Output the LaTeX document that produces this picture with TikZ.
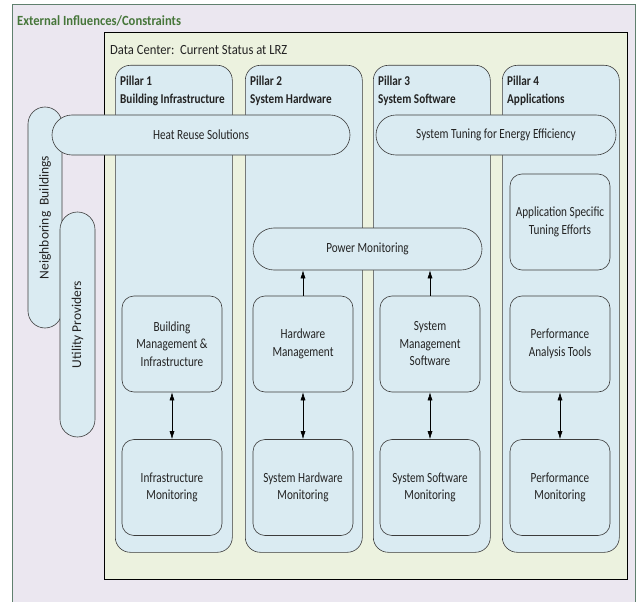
\documentclass[tikz,border=0pt]{standalone}
\usepackage{fontspec}
\setmainfont{Carlito}
\newfontfamily\bodyfont[FakeStretch=0.8]{Carlito}
\newfontfamily\pillfont[FakeStretch=0.83]{Carlito}
\newfontfamily\headfont[FakeStretch=0.9]{Carlito}
\usetikzlibrary{arrows.meta}
\definecolor{extfill}{RGB}{235,231,240}
\definecolor{extline}{RGB}{96,128,110}
\definecolor{dcfill}{RGB}{236,242,223}
\definecolor{pilfill}{RGB}{218,235,242}
\definecolor{boxline}{RGB}{60,60,60}
\definecolor{titlegreen}{RGB}{70,118,58}
\definecolor{txt}{RGB}{35,35,35}

\tikzset{
	frame/.style={draw=#1, line width=0.7pt, anchor=north west, inner sep=0pt},
	pillar/.style={draw=boxline, fill=pilfill, line width=0.6pt, rounded corners=15pt, anchor=north west, minimum width=117pt, minimum height=487pt, inner sep=0pt},
	pillhead/.style={anchor=base west, text=txt, font=\fontsize{13.5}{16}\pillfont\bfseries, inner sep=0pt},
	box/.style={draw=boxline, fill=pilfill, line width=0.6pt, rounded corners=12pt, minimum width=100pt, minimum height=96pt, align=center, text=txt, font=\fontsize{14}{17.5}\bodyfont, inner sep=2pt},
	capsule/.style={draw=boxline, fill=pilfill, line width=0.6pt, rounded corners=#1, align=center, text=txt, font=\fontsize{14}{17.5}\bodyfont, inner sep=0pt},
	sidetext/.style={rotate=90, text=txt, font=\fontsize{13.5}{16}\selectfont},
	link/.style={line width=0.6pt, {Latex[length=8pt,width=5pt]}-{Latex[length=8pt,width=5pt]}},
	uplink/.style={line width=0.6pt, -{Latex[length=8pt,width=5pt]}}
}

\begin{document}
\begin{tikzpicture}[x=1pt,y=-1pt]
		\useasboundingbox (0,0) rectangle (638,602);
		\clip (0,0) rectangle (638,602);
		\fill[white] (0,0) rectangle (638,602);
		% outer frame and data center
		\node[frame=extline, fill=extfill, minimum width=623pt, minimum height=606pt] (ext) at (12,4) {};
		\node[anchor=base west, inner sep=0pt, text=titlegreen, font=\fontsize{14}{16}\headfont\bfseries] (exttitle) at (17,26) {External Influences/Constraints};
		\node[frame=black, fill=dcfill, minimum width=523pt, minimum height=547pt] (dc) at (104,32) {};
		\node[anchor=base west, inner sep=0pt, text=txt, font=\fontsize{14}{16}\headfont] (dctitle) at (110,54.5) {Data Center:\ \ Current Status at LRZ};
		% pillars
		\node[pillar] (p1) at (115,65) {};
		\node[pillar] (p2) at (245,65) {};
		\node[pillar] (p3) at (373,65) {};
		\node[pillar] (p4) at (502,65) {};
		\node[pillhead] (p1t) at (120,85.5) {Pillar 1};
		\node[pillhead] (p1s) at (120,103) {Building Infrastructure};
		\node[pillhead] (p2t) at (250,85.5) {Pillar 2};
		\node[pillhead] (p2s) at (250,103) {System Hardware};
		\node[pillhead] (p3t) at (378,85.5) {Pillar 3};
		\node[pillhead] (p3s) at (378,103) {System Software};
		\node[pillhead] (p4t) at (507,85.5) {Pillar 4};
		\node[pillhead] (p4s) at (507,103) {Applications};
		% external side capsules
		\node[capsule=17pt, minimum width=34pt, minimum height=221pt] (nb) at (45,217.5) {};
		\node[sidetext] (nbt) at (nb.center) {Neighboring\ \ Buildings};
		\node[capsule=17.5pt, minimum width=35pt, minimum height=225pt] (up) at (77.5,324.5) {};
		\node[sidetext] (upt) at (up.center) {Utility Providers};
		% cross-pillar capsules
		\node[capsule=20pt, minimum width=298pt, minimum height=40pt] (heat) at (201,135) {Heat Reuse Solutions};
		\node[capsule=20pt, minimum width=240pt, minimum height=40pt] (tune) at (496,135) {System Tuning for Energy Efficiency};
		\node[capsule=21pt, minimum width=229pt, minimum height=42pt] (pw) at (367.5,249) {Power Monitoring};
		% boxes
		\node[box] (bm) at (172,344) {Building\\Management \&\\Infrastructure};
		\node[box] (im) at (172,487.5) {Infrastructure\\Monitoring};
		\node[box] (hm) at (303,344) {Hardware\\Management};
		\node[box] (shm) at (303,487.5) {System Hardware\\Monitoring};
		\node[box] (sms) at (430,344) {System\\Management\\Software};
		\node[box] (ssm) at (430,487.5) {System Software\\Monitoring};
		\node[box] (ase) at (560,222) {Application Specific\\Tuning Efforts};
		\node[box] (pat) at (560,344) {Performance\\Analysis Tools};
		\node[box] (pm) at (560,487.5) {Performance\\Monitoring};
		% arrows
		\draw[link] (bm) -- (im);
		\draw[link] (hm) -- (shm);
		\draw[link] (sms) -- (ssm);
		\draw[link] (pat) -- (pm);
		\draw[uplink] (hm) -- (hm |- pw.south);
		\draw[uplink] (sms) -- (sms |- pw.south);
\end{tikzpicture}
\end{document}
